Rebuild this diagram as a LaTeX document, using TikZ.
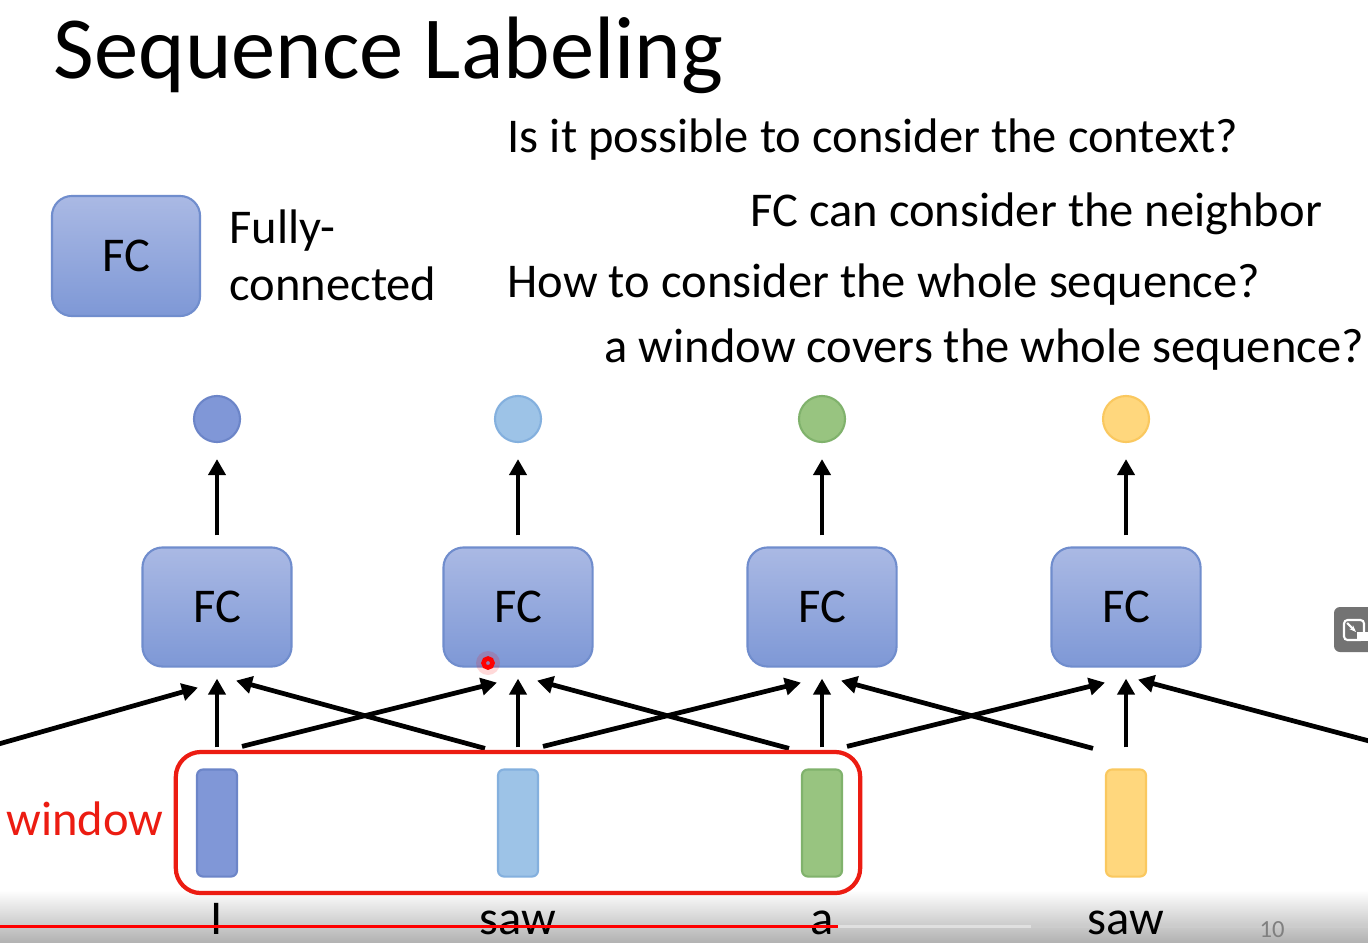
\documentclass[tikz,border=0pt]{standalone}
\usepackage{fontspec}
\setmainfont{Carlito}
\usetikzlibrary{arrows.meta}
\definecolor{fctop}{RGB}{170,185,228}
\definecolor{fcbot}{RGB}{126,152,214}
\definecolor{fcline}{RGB}{112,141,205}
\definecolor{cA}{RGB}{128,151,215}
\definecolor{cAl}{RGB}{108,133,200}
\definecolor{cB}{RGB}{157,195,231}
\definecolor{cBl}{RGB}{132,176,222}
\definecolor{cC}{RGB}{152,196,128}
\definecolor{cCl}{RGB}{128,178,108}
\definecolor{cD}{RGB}{255,215,125}
\definecolor{cDl}{RGB}{250,200,95}
\definecolor{winred}{RGB}{236,28,18}
\tikzset{
  txt/.style={anchor=base west,inner sep=0pt,font=\fontsize{13.8}{16}\selectfont},
  fc/.style={draw=fcline,line width=0.6pt,rounded corners=0.2cm,top color=fctop,bottom color=fcbot,
    minimum width=1.49cm,minimum height=1.19cm,font=\fontsize{13.8}{16}\selectfont},
  outdot/.style={circle,minimum size=0.46cm,inner sep=0pt,fill=#1,draw=#1l,line width=0.6pt},
  inbar/.style={rounded corners=0.06cm,minimum width=0.4cm,minimum height=1.07cm,inner sep=0pt,
    fill=#1,draw=#1l,line width=0.6pt},
  link/.style={line width=1.35pt,-{Triangle[width=0.17cm,length=0.16cm]}}
}
\begin{document}
\begin{tikzpicture}[x=0.01cm,y=-0.01cm]
\fill[white] (0,0) rectangle (1368,942);
\useasboundingbox (0,0) rectangle (1368,942);

\node[txt,font=\fontsize{25.2}{30}\selectfont] (title) at (53,78) {Sequence Labeling};
\node[txt] (q1) at (507,152) {Is it possible to consider the context?};
\node[txt] (a1) at (750,226) {FC can consider the neighbor};
\node[txt] (q2) at (507,297) {How to consider the whole sequence?};
\node[txt] (a2) at (604,362) {a window covers the whole sequence?};

\node[fc,minimum width=1.48cm,minimum height=1.2cm] (legend) at (126,256) {FC};
\node[txt] (full1) at (229,243) {Fully-};
\node[txt] (full2) at (229,300) {connected};

\shade[top color=white,bottom color=black!30] (0,890) rectangle (1368,942);
\draw[line width=0.85pt,white!88!black] (838,926) -- (1031,926);
\draw[line width=0.85pt,white!80!black] (1031,926) -- (1368,926);

\foreach \i/\x/\c/\w in {1/217/cA/I,2/518/cB/saw,3/822/cC/a,4/1126/cD/saw}
{
    \node[outdot=\c] (o\i) at (\x,419) {};
    \node[fc] (fc\i) at (\x,607) {FC};
    \node[inbar=\c] (in\i) at (\x,823) {};
    \node[txt,anchor=base] (w\i) at (\x,934) {\w};
    \draw[link,shorten <=0.11cm,shorten >=0.16cm] (fc\i.north) -- (o\i.south);
    \draw[link] ([yshift=0.21cm]in\i.north) -- ([yshift=-0.11cm]fc\i.south);
}

\foreach \i/\j in {1/2,2/3,3/4}
{
    \draw[link] ([xshift=0.25cm,yshift=0.22cm]in\i.north) -- ([xshift=-0.21cm,yshift=-0.15cm]fc\j.south);
    \draw[link] ([xshift=-0.33cm,yshift=0.2cm]in\j.north) -- ([xshift=0.19cm,yshift=-0.13cm]fc\i.south);
}
\coordinate (offL) at (-5,745);
\coordinate (offR) at (1373,742);
\draw[link] (offL) -- ([xshift=-0.19cm,yshift=-0.2cm]fc1.south);
\draw[link] (offR) -- ([xshift=0.12cm,yshift=-0.12cm]fc4.south);

\node[draw=winred,line width=1.2pt,rounded corners=0.25cm,minimum width=6.84cm,minimum height=1.41cm] (win) at (518,822.5) {};
\node[txt,text=winred] (wlabel) at (6,835) {window};

\node[txt,font=\fontsize{7}{8}\selectfont,text=black!50] (pg) at (1259,937) {10};
\draw[line width=0.85pt,red] (0,926) -- (838,926);

\fill[red,opacity=0.15] (488,663) circle[radius=0.12cm];
\draw[red,line width=1.3pt] (488,663) circle[radius=0.045cm];

\fill[black!55,rounded corners=0.06cm] (1334,607) rectangle (1385,652);
\draw[white,line width=0.6pt,rounded corners=1pt] (1344,620) rectangle (1364,640);
\draw[white,line width=0.6pt,-{Stealth[length=2pt]}] (1347,623) -- (1356,632);
\fill[white] (1357,632) rectangle (1368,641);
\end{tikzpicture}
\end{document}
